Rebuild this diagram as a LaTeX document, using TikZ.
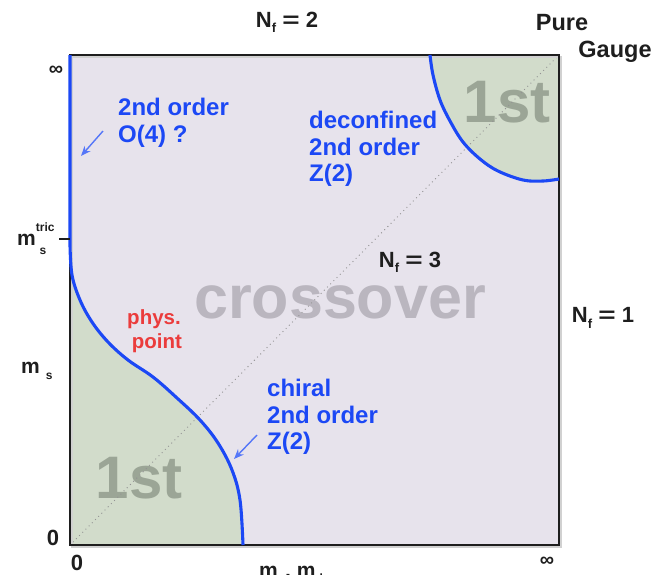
\documentclass[tikz,border=0pt]{standalone}
\usepackage{fontspec}
\setmainfont{Liberation Sans}
\usetikzlibrary{arrows.meta}
\definecolor{bgl}{RGB}{231,227,236}
\definecolor{grn}{RGB}{210,220,203}
\definecolor{firstc}{RGB}{155,165,150}
\definecolor{crossc}{RGB}{186,182,191}
\definecolor{blu}{RGB}{28,72,245}
\definecolor{redc}{RGB}{235,60,60}
\definecolor{ink}{RGB}{30,30,30}
\newcommand{\wideeq}{\scalebox{1.35}[1]{=}}
\newcommand{\subf}{\raisebox{-0.45ex}{\fontsize{13}{13}\selectfont f}}
\begin{document}
\begin{tikzpicture}[x=1pt,y=-1pt,
  lbl/.style={inner sep=0pt,text=ink,font=\bfseries\fontsize{22}{26}\selectfont},
  bluetxt/.style={inner sep=0pt,text=blu,align=left,font=\bfseries\fontsize{24}{26.5}\selectfont},
  bigtxt/.style={inner sep=0pt,font=\bfseries\fontsize{60}{60}\selectfont},
  bluecurve/.style={draw=blu,line width=3.1pt},
  pointer/.style={draw=blu!75,line width=1.4pt,-{Stealth[length=10pt,width=8pt]}}]
\useasboundingbox (0,0) rectangle (654,574);
% background square
\fill[bgl] (70,55) rectangle (559,545);
% green first-order regions
\fill[grn] plot[smooth,tension=0.6] coordinates {(70,245) (72,275) (80,300) (92,322) (108,342) (128,360) (153,377) (177,398) (200,420) (218,443) (232,470) (240,500) (243,545)} -- (70,545) -- cycle;
\fill[grn] plot[smooth,tension=0.6] coordinates {(430,55) (433,75) (440,100) (450,121) (463,142) (480,159) (498,171) (523,180) (543,181) (559,179)} -- (559,55) -- cycle;
% big texts
\node[bigtxt,text=firstc] (first1) at (139,478) {1st};
\node[bigtxt,text=firstc] (first2) at (507,102) {1st};
\node[bigtxt,text=crossc,font=\bfseries\fontsize{61}{61}\selectfont] (cross) at (340,302) {crossover};
% diagonal
\coordinate (origin) at (70,545);
\coordinate (corner) at (559,55);
\draw[gray!85,line width=1.3pt,line cap=round,dash pattern=on 0pt off 4.5pt] (origin) -- (corner);
% frame shadow and frame
\draw[black!18,line width=2pt] (71.5,56.5) rectangle (560.5,546.5);
\draw[ink,line width=2.6pt] (70,55) rectangle (559,545);
% blue transition lines
\draw[bluecurve] (70,55) -- (70,245) plot[smooth,tension=0.6] coordinates {(70,245) (72,275) (80,300) (92,322) (108,342) (128,360) (153,377) (177,398) (200,420) (218,443) (232,470) (240,500) (243,545)};
\draw[bluecurve] plot[smooth,tension=0.6] coordinates {(430,55) (433,75) (440,100) (450,121) (463,142) (480,159) (498,171) (523,180) (543,181) (559,179)};
% tick for m_s^tric
\coordinate (tickA) at (59,239);
\coordinate (tickB) at (70,239);
\draw[ink,line width=1.6pt] (tickA) -- (tickB);
% outside labels
\node[lbl] (nf2) at (287,22) {N\subf\ \wideeq\ 2};
\node[lbl,font=\bfseries\fontsize{23.5}{26}\selectfont] (pure) at (562,23) {Pure};
\node[lbl,font=\bfseries\fontsize{23.5}{26}\selectfont] (gauge) at (615,52) {Gauge};
\node[lbl] (nf1) at (603,318) {N\subf\ \wideeq\ 1};
\node[lbl] (nf3) at (410,262) {N\subf\ \wideeq\ 3};
\node[lbl,font=\bfseries\fontsize{20}{20}\selectfont] (inftop) at (56,71) {∞};
\node[lbl,font=\bfseries\fontsize{20}{20}\selectfont] (infright) at (547,562) {∞};
\node[lbl] (zeroL) at (53,538) {0};
\node[lbl] (zeroB) at (77,563) {0};
\node[lbl,anchor=base west,font=\bfseries\fontsize{21}{24}\selectfont] (mtric) at (17,245) {m\raisebox{1.25ex}{\fontsize{12}{12}\selectfont tric}\hspace{-15pt}\raisebox{-0.9ex}{\fontsize{12}{12}\selectfont s}};
\node[lbl,anchor=base west,font=\bfseries\fontsize{21}{24}\selectfont] (ms) at (21,373) {m\hspace{6pt}\raisebox{-0.6ex}{\fontsize{12}{12}\selectfont s}};
\node[lbl,anchor=base west,font=\bfseries\fontsize{21}{24}\selectfont] (mumd) at (259,577) {m\raisebox{-0.5ex}{\fontsize{12}{12}\selectfont u}, m\raisebox{-0.5ex}{\fontsize{12}{12}\selectfont d}};
% blue annotations
\node[bluetxt,anchor=west] (o4) at (118,123) {2nd order\\O(4) ?};
\node[bluetxt,anchor=west] (deconf) at (309,149) {deconfined\\2nd order\\Z(2)};
\node[bluetxt,anchor=west] (chiral) at (267,417) {chiral\\2nd order\\Z(2)};
\node[inner sep=0pt,text=redc,align=center,font=\bfseries\fontsize{20.5}{24}\selectfont] (phys) at (154,331) {phys.\\\ point};
% pointer arrows
\coordinate (a1s) at (103,131);
\coordinate (a1e) at (81,156);
\draw[pointer] (a1s) -- (a1e);
\coordinate (a2s) at (257,435);
\coordinate (a2e) at (234,459);
\draw[pointer] (a2s) -- (a2e);
\end{tikzpicture}
\end{document}
